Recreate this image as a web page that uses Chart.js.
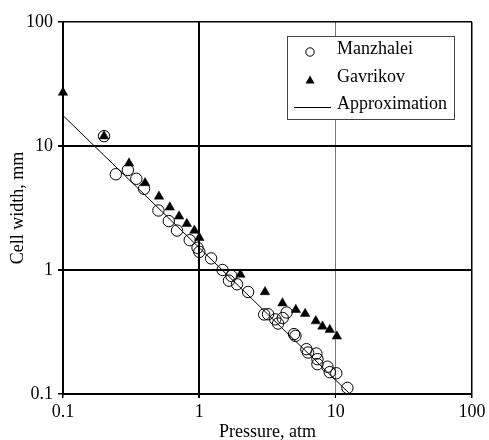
<!DOCTYPE html>
<html>
<head>
<meta charset="utf-8">
<script src="https://cdn.jsdelivr.net/npm/chart.js@4/dist/chart.umd.min.js"></script>
<style>
  html, body { margin: 0; padding: 0; background: #fff; }
  #wrap { width: 489px; height: 440px; }
</style>
</head>
<body>
<div id="wrap"><canvas id="chart" width="489" height="440"></canvas></div>
<script>
// Cell width vs pressure, log-log
const manzPressure = [0.2, 0.244, 0.299, 0.345, 0.393, 0.501, 0.597, 0.686, 0.85, 0.97, 1.0, 1.22, 1.48, 1.72, 1.65, 1.89, 2.28, 2.99, 3.19, 3.61, 3.78, 4.09, 4.37, 4.95, 5.07, 6.1, 6.27, 7.22, 7.35, 7.35, 8.7, 9.05, 10.1, 12.2]
const manzWidth    = [12.0, 5.92, 6.40, 5.44, 4.52, 3.02, 2.48, 2.08, 1.74, 1.51, 1.40, 1.24, 1.0, 0.895, 0.82, 0.767, 0.665, 0.438, 0.44, 0.40, 0.37, 0.41, 0.454, 0.304, 0.294, 0.230, 0.216, 0.212, 0.191, 0.174, 0.166, 0.150, 0.147, 0.112]

const gavPressure = [0.1, 0.2, 0.305, 0.40, 0.506, 0.607, 0.71, 0.81, 0.92, 1.0, 2.0, 3.03, 4.07, 5.10, 5.97, 7.15, 8.0, 9.05, 10.2]
const gavWidth    = [27.0, 12.0, 7.25, 5.03, 3.92, 3.2, 2.71, 2.36, 2.08, 1.82, 0.92, 0.665, 0.54, 0.478, 0.444, 0.387, 0.351, 0.33, 0.292]

const approxPressure = [0.1, 12.5]
const approxWidth    = [17.6, 0.102]

const xTicks = [0.1, 1, 10, 100]
const yTicks = [0.1, 1, 10, 100]

const serif = "'Liberation Serif', 'DejaVu Serif', serif"

const pts = (xs, ys) => xs.map((x, i) => ({ x, y: ys[i] }))

// ----- legend box inside the plot -----
const boxLegend = {
  id: "boxLegend",
  afterDraw(chart) {
    const ctx = chart.ctx
    ctx.save()
    ctx.strokeStyle = "#444"
    ctx.lineWidth = 1
    ctx.fillStyle = "#fff"
    ctx.fillRect(287, 36, 167, 83)
    ctx.strokeRect(287.5, 36.5, 167, 83)

    const mx = 310
    // circle
    ctx.beginPath()
    ctx.arc(mx, 52, 4.2, 0, Math.PI * 2)
    ctx.strokeStyle = "#000"
    ctx.stroke()
    // triangle
    ctx.beginPath()
    ctx.moveTo(mx, 75.5)
    ctx.lineTo(mx + 4.5, 83.5)
    ctx.lineTo(mx - 4.5, 83.5)
    ctx.closePath()
    ctx.fillStyle = "#000"
    ctx.fill()
    // line
    ctx.beginPath()
    ctx.moveTo(294, 107.5)
    ctx.lineTo(331, 107.5)
    ctx.lineWidth = 1
    ctx.stroke()

    ctx.font = "18px " + serif
    ctx.textBaseline = "middle"
    ctx.textAlign = "left"
    const labels = chart.data.datasets.map(d => d.label)
    ctx.fillText(labels[1], 337, 49)
    ctx.fillText(labels[0], 337, 77)
    ctx.fillText(labels[2], 337, 104)
    ctx.restore()
  }
}

const ctx = document.getElementById("chart").getContext("2d")
new Chart(ctx, {
  type: "scatter",
  data: {
    datasets: [
      {
        label: "Gavrikov",
        data: pts(gavPressure, gavWidth),
        pointStyle: "triangle",
        pointRadius: 5.5,
        pointBackgroundColor: "#000",
        pointBorderColor: "#000",
        pointBorderWidth: 0.5,
        clip: false,
        order: 0
      },
      {
        label: "Manzhalei",
        data: pts(manzPressure, manzWidth),
        pointStyle: "circle",
        pointRadius: 5.7,
        pointBackgroundColor: "rgba(0,0,0,0)",
        pointBorderColor: "#000",
        pointBorderWidth: 1,
        clip: false,
        order: 1
      },
      {
        label: "Approximation",
        type: "line",
        data: pts(approxPressure, approxWidth),
        borderColor: "#000",
        borderWidth: 1,
        pointRadius: 0,
        fill: false,
        clip: false,
        order: 2
      }
    ]
  },
  plugins: [boxLegend],
  options: {
    responsive: false,
    animation: false,
    events: [],
    layout: { padding: { top: 22, right: 17, left: 0, bottom: 0 } },
    plugins: { legend: { display: false }, tooltip: { enabled: false } },
    scales: {
      x: {
        type: "logarithmic",
        min: 0.1,
        max: 100,
        afterBuildTicks: s => { s.ticks = xTicks.map(v => ({ value: v })) },
        afterFit: s => { s.height = 46 },
        ticks: {
          autoSkip: false,
          maxRotation: 0,
          padding: 3,
          color: "#000",
          font: { family: serif, size: 18 },
          callback: v => String(v)
        },
        grid: {
          drawTicks: true,
          tickLength: 4,
          tickColor: "#000",
          color: c => (c.tick && c.tick.value === 10 ? "#777" : "#000"),
          lineWidth: c => {
            const v = c.tick && c.tick.value
            if (v === 1) return 2
            if (v === 10) return 1
            return 1.5
          }
        },
        border: { display: true, color: "#000", width: 2 },
        title: {
          display: true,
          text: "Pressure, atm",
          color: "#000",
          font: { family: serif, size: 18, lineHeight: 0.9 },
          padding: { top: 0, bottom: 0 }
        }
      },
      y: {
        type: "logarithmic",
        min: 0.1,
        max: 100,
        afterBuildTicks: s => { s.ticks = yTicks.map(v => ({ value: v })) },
        afterFit: s => { s.width = 63 },
        ticks: {
          autoSkip: false,
          padding: 5,
          color: "#000",
          font: { family: serif, size: 18 },
          callback: v => String(v)
        },
        grid: {
          drawTicks: true,
          tickLength: 5,
          tickColor: "#000",
          color: "#000",
          lineWidth: c => {
            const v = c.tick && c.tick.value
            if (v === 1 || v === 10) return 2
            return 1.5
          }
        },
        border: { display: true, color: "#000", width: 2 },
        title: {
          display: true,
          text: "Cell width, mm",
          color: "#000",
          font: { family: serif, size: 18 },
          padding: { top: 7, bottom: 0 }
        }
      }
    }
  }
})
</script>
</body>
</html>
